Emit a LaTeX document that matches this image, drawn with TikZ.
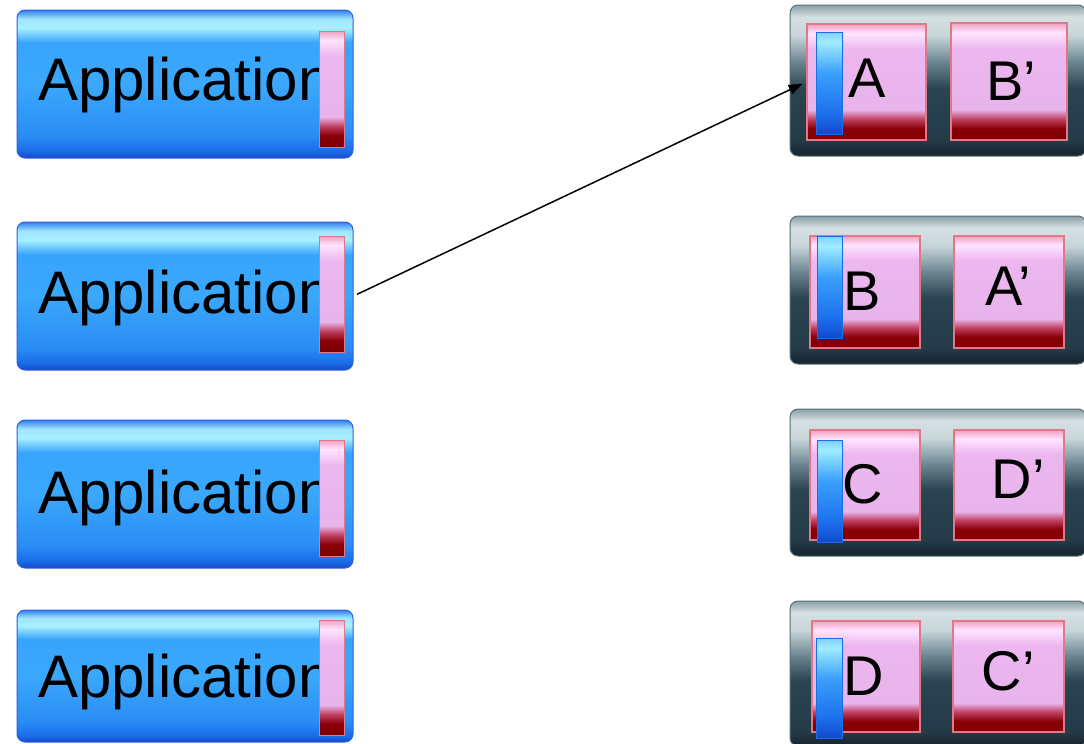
\documentclass[tikz,border=0pt]{standalone}
\usepackage{fontspec}
\setmainfont{Liberation Sans}
\usetikzlibrary{arrows.meta}
\definecolor{bA}{HTML}{1848C8}
\definecolor{bB}{HTML}{1A6EE8}
\definecolor{bC}{HTML}{2A8CF4}
\definecolor{bD}{HTML}{3AA8FC}
\definecolor{bE}{HTML}{38A4FC}
\definecolor{bF}{HTML}{A8F0FF}
\definecolor{bG}{HTML}{A0E4FC}
\definecolor{bH}{HTML}{3080F0}
\definecolor{gA}{HTML}{16222C}
\definecolor{gB}{HTML}{243A48}
\definecolor{gC}{HTML}{2A4452}
\definecolor{gD}{HTML}{6A8490}
\definecolor{gE}{HTML}{C8D6DA}
\definecolor{gF}{HTML}{D6E0E2}
\definecolor{gG}{HTML}{8AA0A8}
\definecolor{pA}{HTML}{7A0000}
\definecolor{pB}{HTML}{8A0008}
\definecolor{pC}{HTML}{C04060}
\definecolor{pD}{HTML}{E8B4EC}
\definecolor{pE}{HTML}{ECB6EE}
\definecolor{pF}{HTML}{FFE4FF}
\definecolor{pG}{HTML}{F0A0C0}
\definecolor{lA}{HTML}{1048D0}
\definecolor{lB}{HTML}{1C70EC}
\definecolor{lC}{HTML}{3AA0FC}
\definecolor{lD}{HTML}{A0ECFF}
\definecolor{lE}{HTML}{80D0FF}
\definecolor{pinkedge}{HTML}{E07888}
\definecolor{appedge}{HTML}{3060E0}
\definecolor{grayedge}{HTML}{5A6E78}
\pgfdeclareverticalshading{blueglass}{100bp}{color(0bp)=(bA); color(25bp)=(bA); color(27.5bp)=(bB); color(32.5bp)=(bC); color(50bp)=(bD); color(64bp)=(bE); color(69bp)=(bF); color(72bp)=(bG); color(75bp)=(bH); color(100bp)=(bH)}
\pgfdeclareverticalshading{grayglass}{100bp}{color(0bp)=(gA); color(25bp)=(gA); color(30bp)=(gB); color(47.5bp)=(gC); color(56bp)=(gD); color(65bp)=(gE); color(71bp)=(gF); color(75bp)=(gG); color(100bp)=(gG)}
\pgfdeclareverticalshading{pinkglass}{100bp}{color(0bp)=(pA); color(25bp)=(pA); color(30bp)=(pB); color(34bp)=(pC); color(38bp)=(pD); color(64bp)=(pE); color(71bp)=(pF); color(75bp)=(pG); color(100bp)=(pG)}
\pgfdeclareverticalshading{barglass}{100bp}{color(0bp)=(lA); color(25bp)=(lA); color(35bp)=(lB); color(55bp)=(lC); color(70bp)=(lD); color(75bp)=(lE); color(100bp)=(lE)}
\tikzset{
  appbox/.style={rectangle, rounded corners=8pt, shading=blueglass, draw=appedge, line width=1pt, inner sep=0pt, minimum width=336pt},
  pinkbar/.style={rectangle, shading=pinkglass, draw=pinkedge, line width=1pt, inner sep=0pt, minimum width=25pt},
  graybox/.style={rectangle, rounded corners=8pt, shading=grayglass, draw=grayedge, line width=1pt, inner sep=0pt, minimum width=296pt},
  pinksq/.style={rectangle, shading=pinkglass, draw=pinkedge, line width=1.5pt, inner sep=0pt},
  bluebar/.style={rectangle, shading=barglass, draw=bB, line width=0.5pt, inner sep=0pt},
  apptext/.style={anchor=base west, inner sep=0pt, font=\fontsize{60}{60}\selectfont},
  lettext/.style={anchor=base, inner sep=0pt, font=\fontsize{56}{56}\selectfont},
  link/.style={line width=1.5pt, -{Triangle[length=14pt,width=10pt]}, shorten <=4pt, shorten >=4pt}
}
\begin{document}
\begin{tikzpicture}[x=1pt,y=-1pt]
\useasboundingbox (0,0) rectangle (1084,744);
% applications
\node[appbox, minimum height=148pt] (app1) at (185,84) {};
\node[apptext] (app1t) at (38,100) {Application};
\node[pinkbar, minimum height=116pt] (bar1) at (331.5,89) {};
\node[appbox, minimum height=148pt] (app2) at (185,296) {};
\node[apptext] (app2t) at (38,313) {Application};
\node[pinkbar, minimum height=116pt] (bar2) at (331.5,294) {};
\node[appbox, minimum height=148pt] (app3) at (185,494) {};
\node[apptext] (app3t) at (38,513) {Application};
\node[pinkbar, minimum height=116pt] (bar3) at (331.5,498) {};
\node[appbox, minimum height=132pt] (app4) at (185,676) {};
\node[apptext] (app4t) at (38,697) {Application};
\node[pinkbar, minimum height=115pt] (bar4) at (331.5,677.5) {};
% gray boxes
\node[graybox, minimum height=151pt] (g1) at (938,80.5) {};
\node[graybox, minimum height=148pt] (g2) at (938,290) {};
\node[graybox, minimum height=147pt] (g3) at (938,482.5) {};
\node[graybox, minimum height=145pt] (g4) at (938,673.5) {};
% row 1
\node[pinksq, minimum width=119pt, minimum height=116pt] (sqA) at (866.5,82) {};
\node[pinksq, minimum width=116pt, minimum height=117pt] (sqBp) at (1009,81.5) {};
\node[bluebar, minimum width=26pt, minimum height=102pt] (bb1) at (829,83) {};
\node[lettext] (tA) at (867,97) {A};
\node[lettext] (tBp) at (1011,100) {B’};
% row 2
\node[pinksq, minimum width=110pt, minimum height=112pt] (sqB) at (865,292) {};
\node[pinksq, minimum width=110pt, minimum height=112pt] (sqAp) at (1009,292) {};
\node[bluebar, minimum width=25pt, minimum height=102pt] (bb2) at (829.5,287) {};
\node[lettext] (tB) at (862,310) {B};
\node[lettext] (tAp) at (1008,305) {A’};
% row 3
\node[pinksq, minimum width=110pt, minimum height=110pt] (sqC) at (865,485) {};
\node[pinksq, minimum width=110pt, minimum height=110pt] (sqDp) at (1009,485) {};
\node[bluebar, minimum width=25pt, minimum height=102pt] (bb3) at (829.5,491) {};
\node[lettext] (tC) at (863,503) {C};
\node[lettext] (tDp) at (1018,498) {D’};
% row 4
\node[pinksq, minimum width=108pt, minimum height=111pt] (sqD) at (866,676.5) {};
\node[pinksq, minimum width=111pt, minimum height=111pt] (sqCp) at (1008.5,676.5) {};
\node[bluebar, minimum width=26pt, minimum height=100pt] (bb4) at (829,688) {};
\node[lettext] (tD) at (864,695) {D};
\node[lettext] (tCp) at (1008,690) {C’};
% connector
\draw[link] (app2.east) -- (sqA.west);
\end{tikzpicture}
\end{document}
